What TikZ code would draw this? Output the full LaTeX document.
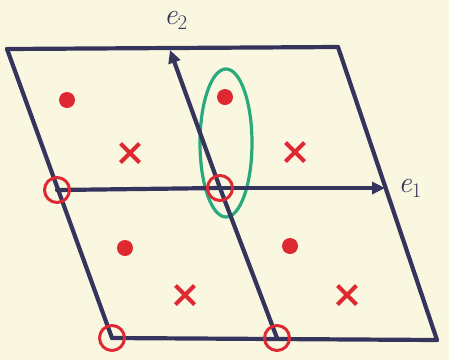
\documentclass[tikz,border=0pt]{standalone}
\usetikzlibrary{arrows.meta,shapes.misc}
\definecolor{paper}{RGB}{250,247,225}
\definecolor{ink}{RGB}{52,52,92}
\definecolor{redpen}{RGB}{222,40,50}
\definecolor{greenpen}{RGB}{40,170,125}
\tikzset{
  lat/.style={draw=ink, line width=4.2pt, line cap=round},
  vec/.style={lat, -{Triangle[length=13pt,width=12pt]}},
  ring/.style={circle, draw=redpen, line width=3pt, minimum size=25pt, inner sep=0pt},
  dotr/.style={circle, fill=redpen, minimum size=16pt, inner sep=0pt},
  crossr/.style={cross out, draw=redpen, line width=4pt, minimum size=15pt, inner sep=0pt},
  lbl/.style={text=ink, font=\fontsize{30}{32}\selectfont\itshape, inner sep=0pt}
}
\begin{document}
\begin{tikzpicture}[x=1pt,y=-1pt]
\fill[paper] (0,0) rectangle (449,360);
\useasboundingbox (0,0) rectangle (449,360);
% lattice points
\coordinate (t0) at (7,49);
\coordinate (t1) at (170,50);
\coordinate (t2) at (338,47);
\coordinate (m0) at (57,190);
\coordinate (m1) at (220,188);
\coordinate (m2) at (385,188);
\coordinate (b0) at (112,338);
\coordinate (b1) at (277,338);
\coordinate (b2) at (437,340);
% green ellipse
\draw[greenpen, line width=3.2pt] (226,143) ellipse [x radius=26, y radius=74];
% lattice lines
\draw[lat] (t0) -- (t2);
\draw[lat] (b0) -- (b2);
\draw[lat] (t0) -- (b0);
\draw[lat] (t2) -- (b2);
\draw[lat] (m0) -- (m1);
\draw[lat] (m1) -- (b1);
\draw[vec] (m1) -- (m2);
\draw[vec] (m1) -- (t1);
% labels
\node[lbl] (e1) at (410,188) {e$_1$};
\node[lbl] (e2) at (176,20) {e$_2$};
% red rings
\node[ring] (r1) at (m0) {};
\node[ring] (r2) at (m1) {};
\node[ring] (r3) at (b0) {};
\node[ring] (r4) at (b1) {};
% red dots
\node[dotr] (d1) at (67,100) {};
\node[dotr] (d2) at (225,97) {};
\node[dotr] (d3) at (125,248) {};
\node[dotr] (d4) at (290,246) {};
% red crosses
\node[crossr] (x1) at (130,153) {};
\node[crossr] (x2) at (295,152) {};
\node[crossr] (x3) at (185,295) {};
\node[crossr] (x4) at (347,295) {};
\end{tikzpicture}
\end{document}
